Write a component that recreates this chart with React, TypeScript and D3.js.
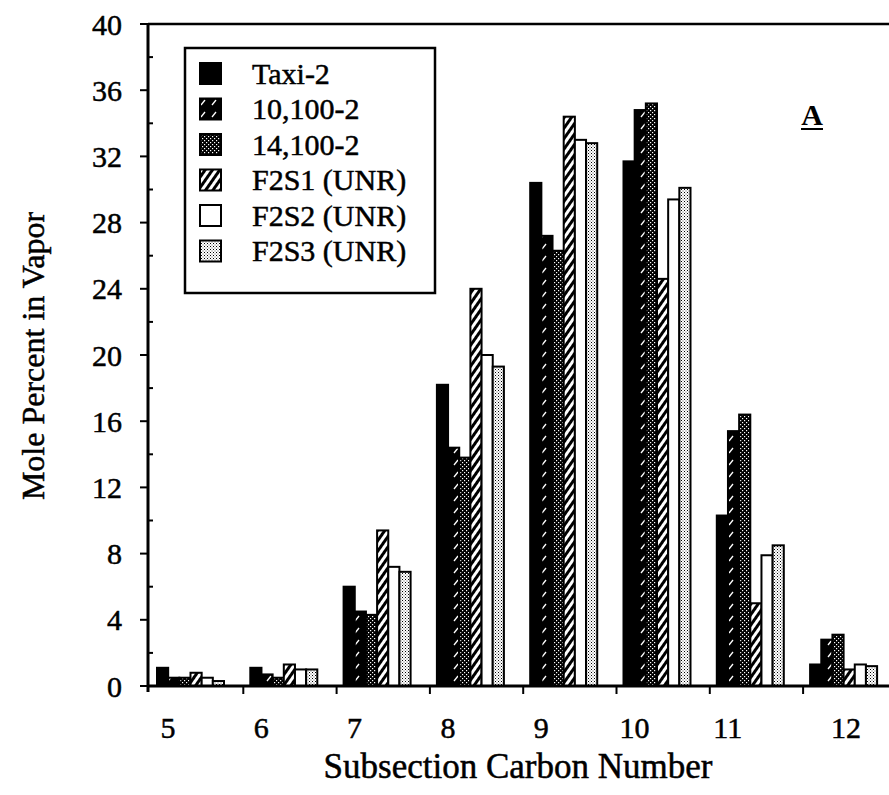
import React, { useEffect, useRef } from "react";
import * as d3 from "d3";

// Mole percent in vapor by subsection carbon number

const categories = ["5", "6", "7", "8", "9", "10", "11", "12"];
const seriesNames = ["Taxi-2", "10,100-2", "14,100-2", "F2S1 (UNR)", "F2S2 (UNR)", "F2S3 (UNR)"];

const taxi2 = [1.1, 1.1, 6.0, 18.2, 30.4, 31.7, 10.3, 1.3];
const s10100 = [0.5, 0.7, 4.5, 14.4, 27.2, 34.8, 15.4, 2.8];
const s14100 = [0.5, 0.5, 4.3, 13.8, 26.3, 35.2, 16.4, 3.1];
const f2s1 = [0.8, 1.3, 9.4, 24.0, 34.4, 24.6, 5.0, 1.0];
const f2s2 = [0.5, 1.0, 7.2, 20.0, 33.0, 29.4, 7.9, 1.3];
const f2s3 = [0.3, 1.0, 6.9, 19.3, 32.8, 30.1, 8.5, 1.2];

const seriesValues = [taxi2, s10100, s14100, f2s1, f2s2, f2s3];
const yTicks = [0, 4, 8, 12, 16, 20, 24, 28, 32, 36, 40];

const fills = ["#000", "url(#p10)", "url(#p14)", "url(#pF1)", "#fff", "url(#pF3)"];

export default function App() {
  const ref = useRef<SVGSVGElement>(null);

  useEffect(() => {
    const svg = d3.select(ref.current);
    svg.selectAll("*").remove();

    const left = 150, top = 24, bottom = 686, step = 93.3;
    const font = "'Liberation Serif', 'Times New Roman', serif";

    // patterns
    const defs = svg.append("defs");
    const p10 = defs.append("pattern").attr("id", "p10").attr("patternUnits", "userSpaceOnUse")
      .attr("width", 11).attr("height", 12);
    p10.append("rect").attr("width", 11).attr("height", 12).attr("fill", "#000");
    p10.append("line").attr("x1", 3).attr("y1", 9).attr("x2", 7).attr("y2", 4)
      .attr("stroke", "#fff").attr("stroke-width", 1.3);

    const p14 = defs.append("pattern").attr("id", "p14").attr("patternUnits", "userSpaceOnUse")
      .attr("width", 4).attr("height", 4);
    p14.append("rect").attr("width", 4).attr("height", 4).attr("fill", "#000");
    p14.append("rect").attr("x", 0).attr("y", 0).attr("width", 1.2).attr("height", 1.2).attr("fill", "#fff");
    p14.append("rect").attr("x", 2).attr("y", 2).attr("width", 1.2).attr("height", 1.2).attr("fill", "#fff");

    const pF1 = defs.append("pattern").attr("id", "pF1").attr("patternUnits", "userSpaceOnUse")
      .attr("width", 6).attr("height", 6).attr("patternTransform", "rotate(35)");
    pF1.append("rect").attr("width", 6).attr("height", 6).attr("fill", "#fff");
    pF1.append("rect").attr("width", 3).attr("height", 6).attr("fill", "#000");

    const pF3 = defs.append("pattern").attr("id", "pF3").attr("patternUnits", "userSpaceOnUse")
      .attr("width", 3).attr("height", 3);
    pF3.append("rect").attr("width", 3).attr("height", 3).attr("fill", "#fff");
    pF3.append("rect").attr("x", 0).attr("y", 0).attr("width", 1).attr("height", 1).attr("fill", "#000");
    pF3.append("rect").attr("x", 1.5).attr("y", 1.5).attr("width", 1).attr("height", 1).attr("fill", "#555");

    const x = d3.scaleBand().domain(categories).range([left, left + step * categories.length]).padding(0);
    const xs = d3.scaleBand().domain(seriesNames).range([7, 74]).padding(0);
    const y = d3.scaleLinear().domain([0, 40]).range([bottom, top]);

    // bars
    const g = svg.append("g");
    seriesValues.forEach((vals, si) => {
      g.selectAll(".bar" + si)
        .data(vals)
        .join("rect")
        .attr("x", (d, i) => (x(categories[i]) as number) + (xs(seriesNames[si]) as number))
        .attr("y", (d) => y(d))
        .attr("width", xs.bandwidth())
        .attr("height", (d) => y(0) - y(d))
        .attr("fill", fills[si])
        .attr("stroke", "#000")
        .attr("stroke-width", 2);
    });

    // axes lines
    svg.append("line").attr("x1", left - 2).attr("x2", 889).attr("y1", bottom).attr("y2", bottom)
      .attr("stroke", "#000").attr("stroke-width", 3);
    svg.append("line").attr("x1", left - 2).attr("x2", 889).attr("y1", top).attr("y2", top)
      .attr("stroke", "#000").attr("stroke-width", 2.5);
    svg.append("line").attr("x1", left - 2).attr("x2", left - 2).attr("y1", top).attr("y2", bottom + 6)
      .attr("stroke", "#000").attr("stroke-width", 3);

    const txt = (sel: any, size: number) =>
      sel.attr("font-family", font).attr("font-size", size)
        .attr("stroke", "#000").attr("stroke-width", 0.5);

    // y ticks
    yTicks.forEach((t) => {
      svg.append("line").attr("x1", left - 10).attr("x2", left - 2).attr("y1", y(t)).attr("y2", y(t))
        .attr("stroke", "#000").attr("stroke-width", 2);
      txt(svg.append("text").attr("x", 122).attr("y", y(t)).attr("dy", "0.35em")
        .attr("text-anchor", "end"), 30).text(t);
      if (t < 40) {
        svg.append("line").attr("x1", left - 2).attr("x2", left + 3).attr("y1", y(t + 2)).attr("y2", y(t + 2))
          .attr("stroke", "#000").attr("stroke-width", 2);
      }
    });

    // x ticks and labels
    categories.forEach((c, i) => {
      const x0 = x(c) as number;
      if (i > 0) {
        svg.append("line").attr("x1", x0).attr("x2", x0).attr("y1", bottom).attr("y2", bottom + 8)
          .attr("stroke", "#000").attr("stroke-width", 2);
      }
      txt(svg.append("text").attr("x", x0 + (c === "12" ? 43 : 18)).attr("y", 738)
        .attr("text-anchor", "middle"), 30).text(c);
    });

    // axis titles
    txt(svg.append("text").attr("x", 518).attr("y", 778).attr("text-anchor", "middle"), 35)
      .text("Subsection Carbon Number");
    txt(svg.append("text").attr("transform", "translate(44,356) rotate(-90)").attr("text-anchor", "middle"), 32)
      .text("Mole Percent in Vapor");

    // panel letter
    svg.append("text").attr("x", 812).attr("y", 125).attr("text-anchor", "middle")
      .attr("font-family", font).attr("font-size", 30).attr("font-weight", "bold").text("A");
    svg.append("line").attr("x1", 801).attr("x2", 823).attr("y1", 129).attr("y2", 129)
      .attr("stroke", "#000").attr("stroke-width", 2);

    // legend
    const lg = svg.append("g");
    lg.append("rect").attr("x", 185).attr("y", 48).attr("width", 250).attr("height", 245)
      .attr("fill", "#fff").attr("stroke", "#000").attr("stroke-width", 2.5);
    seriesNames.forEach((s, i) => {
      const cy = 73 + i * 35.5;
      lg.append("rect").attr("x", 200).attr("y", cy - 10).attr("width", 21).attr("height", 21)
        .attr("fill", fills[i]).attr("stroke", "#000").attr("stroke-width", 2);
      txt(lg.append("text").attr("x", 252).attr("y", cy).attr("dy", "0.35em"), 30).text(s);
    });
  }, []);

  return (
    <svg ref={ref} width={889} height={795} style={{ position: "absolute", left: 0, top: 0, background: "#fff" }} />
  );
}
